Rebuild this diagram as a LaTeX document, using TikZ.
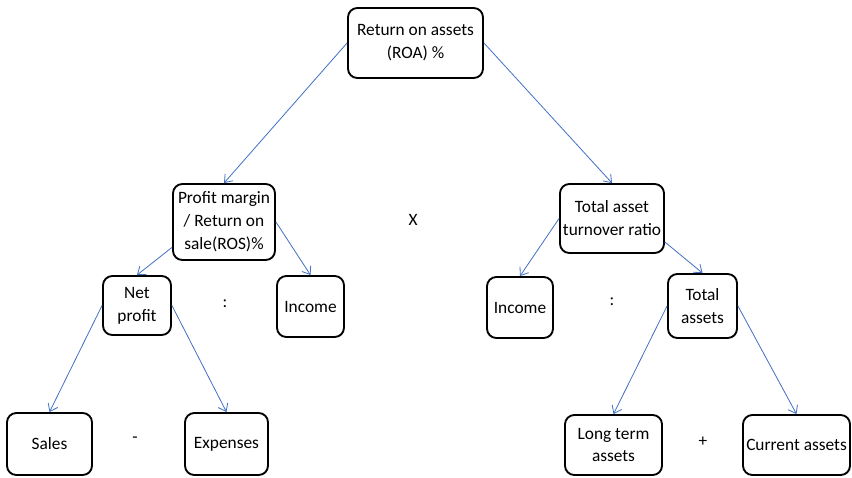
\documentclass[tikz,border=0pt]{standalone}
\usepackage{fontspec}
\setmainfont{Carlito}
\usepackage{tikz}
\usetikzlibrary{arrows.meta}
\definecolor{lineblue}{RGB}{68,114,196}
\tikzstyle{arrow} = [draw=lineblue, line width=0.7pt, -{Straight Barb[length=6pt,width=9pt]}]

\begin{document}
\begin{tikzpicture}[x=0.03cm, y=-0.03cm]
    \tikzstyle{box}=[rectangle, draw=black, line width=1.6pt, rounded corners=0.28cm, align=center, inner sep=1pt, font=\fontsize{14.8}{19.6}\selectfont]
    \tikzstyle{sign}=[font=\fontsize{14.8}{19.6}\selectfont]
    \useasboundingbox (0,0) rectangle (852,477);

    % Draw the top node
    \node[box, minimum width=4.05cm, minimum height=2.1cm] (ROA) at (415.5,43) {Return on assets\\(ROA) \%};

    % Draw the ratio nodes
    \node[box, minimum width=3.06cm, minimum height=2.28cm] (ROS) at (224,222) {Profit margin\\/ Return on\\sale(ROS)\%};
    \node[box, minimum width=3.12cm, minimum height=2.07cm] (TAT) at (612,218.5) {Total asset\\turnover ratio};

    % Draw the middle layer
    \node[box, minimum width=2.04cm, minimum height=1.77cm] (NP) at (137,305.5) {Net\\profit};
    \node[box, minimum width=2.01cm, minimum height=1.83cm] (IL) at (310.5,306.5) {Income};
    \node[box, minimum width=1.98cm, minimum height=1.83cm] (IR) at (520,307.5) {Income};
    \node[box, minimum width=2.07cm, minimum height=1.92cm] (TA) at (702.5,306) {Total\\assets};

    % Draw the bottom layer
    \node[box, minimum width=2.55cm, minimum height=1.86cm] (S) at (49.5,444) {Sales};
    \node[box, minimum width=2.49cm, minimum height=1.86cm] (E) at (226.5,444) {Expenses};
    \node[box, minimum width=2.91cm, minimum height=1.8cm] (LT) at (613.5,445) {Long term\\assets};
    \node[box, minimum width=3.21cm, minimum height=1.8cm] (CA) at (796.5,445) {Current assets};

    % Operators between the boxes
    \node[sign] (x1) at (413,220) {X};
    \node[sign] (d1) at (225,304) {:};
    \node[sign] (d2) at (612,302) {:};
    \node[sign] (m1) at (135,440) {-};
    \node[sign] (p1) at (703,442) {+};

    % Connect the boxes
    \draw[arrow] (ROA.west) -- (ROS.north);
    \draw[arrow] (ROA.east) -- (TAT.north);
    \draw[arrow] (ROS.206) -- (NP.north);
    \draw[arrow] (ROS.east) -- (IL.north);
    \draw[arrow] (TAT.west) -- (IR.north);
    \draw[arrow] (TAT.336) -- (TA.north);
    \draw[arrow] (NP.west) -- (S.north);
    \draw[arrow] (NP.east) -- (E.north);
    \draw[arrow] (TA.west) -- (LT.north);
    \draw[arrow] (TA.east) -- (CA.north);
\end{tikzpicture}
\end{document}
